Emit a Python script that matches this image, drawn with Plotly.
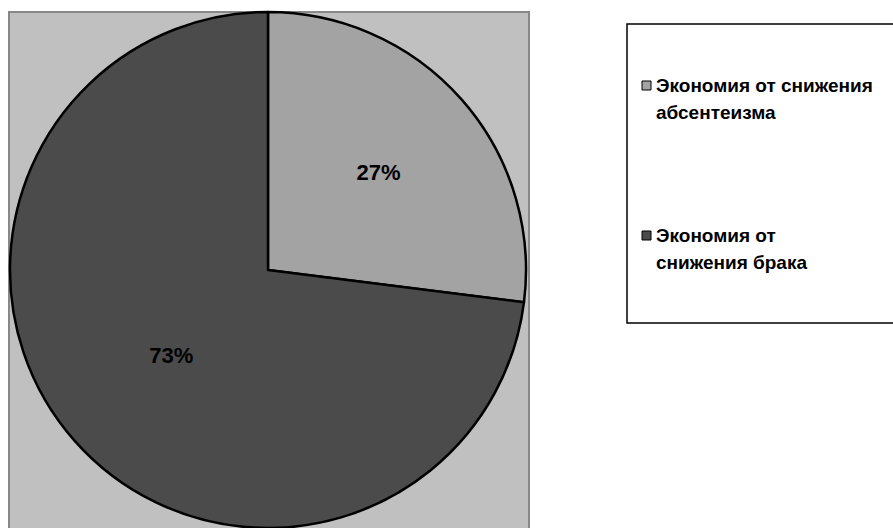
import plotly.graph_objects as go

# Shares of savings by source
labels = ["Экономия от снижения абсентеизма", "Экономия от снижения брака"]
legend_lines = [["Экономия от снижения", "абсентеизма"], ["Экономия от", "снижения брака"]]
values = [27, 73]
colors = ["#a3a3a3", "#4b4b4b"]

W, H = 893, 528
FONT = "Liberation Sans, Arial, sans-serif"


def px(x):
    return x / W


def py(y):
    return (H - y) / H


fig = go.Figure()

fig.add_trace(go.Pie(
    labels=labels,
    values=values,
    sort=False,
    direction="clockwise",
    rotation=0,
    marker=dict(colors=colors, line=dict(color="#000000", width=2.5)),
    texttemplate="%{percent:.0%}",
    textposition="inside",
    insidetextorientation="horizontal",
    textfont=dict(family=FONT, size=22, color="#000000", weight="bold"),
    domain=dict(x=[px(10), px(526)], y=[0, py(12)]),
    showlegend=False,
    hoverinfo="label+percent",
))

shapes = [
    # plot area background
    dict(type="rect", xref="paper", yref="paper", layer="below",
         x0=px(9), x1=px(529), y0=-0.05, y1=py(12),
         fillcolor="#c0c0c0", line=dict(color="#888888", width=2)),
    # legend frame
    dict(type="rect", xref="paper", yref="paper", layer="below",
         x0=px(627), x1=px(894), y0=py(323), y1=py(24),
         fillcolor="#ffffff", line=dict(color="#000000", width=1.5)),
]

annotations = []
item_tops = [85, 235]
for lines, color, ytop in zip(legend_lines, colors, item_tops):
    shapes.append(dict(type="rect", xref="paper", yref="paper",
                       x0=px(642), x1=px(651), y0=py(ytop + 5), y1=py(ytop - 4),
                       fillcolor=color, line=dict(color="#000000", width=1)))
    for i, line in enumerate(lines):
        annotations.append(dict(
            x=px(654), y=py(ytop + 27 * i), xref="paper", yref="paper",
            xanchor="left", yanchor="middle", showarrow=False,
            text=line, font=dict(family=FONT, size=19, color="#000000", weight="bold"),
        ))

fig.update_layout(
    width=W, height=H,
    margin=dict(l=0, r=0, t=0, b=0),
    paper_bgcolor="#ffffff",
    plot_bgcolor="#ffffff",
    shapes=shapes,
    annotations=annotations,
)

fig.write_html("out.html")
